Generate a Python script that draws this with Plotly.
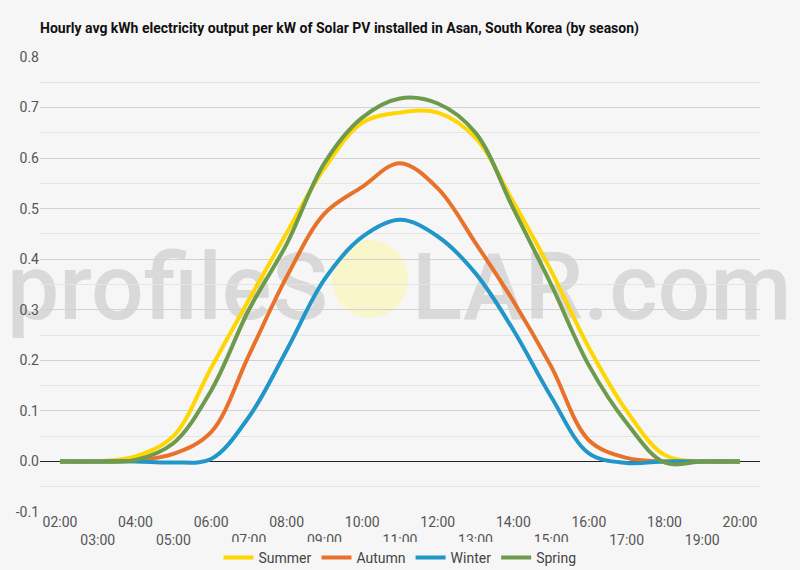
import plotly.graph_objects as go

hours = list(range(2, 21))
hour_labels = [f"{h:02d}:00" for h in hours]

summer = [0, 0, 0.01, 0.05, 0.185, 0.32, 0.452, 0.58, 0.67, 0.69, 0.69, 0.64, 0.513, 0.377, 0.225, 0.10, 0.013, 0, 0]
autumn = [0, 0, 0.002, 0.015, 0.058, 0.21, 0.365, 0.49, 0.543, 0.59, 0.54, 0.432, 0.317, 0.188, 0.042, 0.007, 0, 0, 0]
winter = [0, 0, 0, -0.002, 0.005, 0.088, 0.22, 0.36, 0.444, 0.478, 0.445, 0.372, 0.26, 0.128, 0.016, -0.003, 0, 0, 0]
spring = [0, 0, 0.003, 0.036, 0.14, 0.30, 0.43, 0.59, 0.68, 0.718, 0.708, 0.65, 0.50, 0.35, 0.19, 0.076, -0.002, 0, 0]

series = [
    ("Summer", summer, "#FFD600"),
    ("Autumn", autumn, "#E8722A"),
    ("Winter", winter, "#2196C8"),
    ("Spring", spring, "#6E9A4C"),
]

y_ticks = [-0.1, 0, 0.1, 0.2, 0.3, 0.4, 0.5, 0.6, 0.7, 0.8]
y_tick_text = ["-0.1", "0.0", "0.1", "0.2", "0.3", "0.4", "0.5", "0.6", "0.7", "0.8"]

# odd hours go on a second row, like the staggered labels in the original
x_tick_text = [lbl if i % 2 == 0 else "<br>" + lbl for i, lbl in enumerate(hour_labels)]

fig = go.Figure()
for name, vals, color in series:
    fig.add_trace(go.Scatter(
        x=hours, y=vals, name=name, mode="lines",
        line=dict(color=color, width=4, shape="spline", smoothing=1.0),
    ))

fig.update_layout(
    width=800, height=570,
    margin=dict(l=40, r=40, t=57, b=58),
    paper_bgcolor="#f6f6f6",
    plot_bgcolor="rgba(0,0,0,0)",
    font=dict(family="Roboto", size=14, color="#555555"),
    title=dict(
        text="<b>Hourly avg kWh electricity output per kW of Solar PV installed in Asan, South Korea (by season)</b>",
        font=dict(family="Roboto", size=14, color="#111111"),
        xref="container", x=0.05, xanchor="left",
        yref="container", y=1 - 28 / 570, yanchor="middle",
    ),
    showlegend=True,
    legend=dict(
        orientation="h", x=0.5, xanchor="center",
        yref="container", y=1 - 558 / 570, yanchor="middle",
        font=dict(size=14, color="#444444"), itemwidth=30,
        traceorder="normal",
    ),
    xaxis=dict(
        range=[2 - 20 / 37.8, 20 + 20 / 37.8],
        tickvals=hours, ticktext=x_tick_text,
        showgrid=False, zeroline=False, showline=False, automargin=False,
        ticks="", tickfont=dict(size=14, color="#555555"),
    ),
    yaxis=dict(
        range=[-0.1, 0.8],
        tickvals=y_ticks, ticktext=y_tick_text,
        showgrid=True, gridcolor="#d2d2d2", gridwidth=1,
        minor=dict(dtick=0.05, tick0=0, showgrid=True, gridcolor="#e4e4e4", gridwidth=1),
        zeroline=True, zerolinecolor="#222222", zerolinewidth=1,
        showline=False, automargin=False,
        ticks="", tickfont=dict(size=14, color="#555555"),
    ),
)

# watermark, kept under the grid and the lines
wm_font = dict(family="Roboto", size=93, color="#d9d9d9", weight=500)
wm_y0, wm_y1 = (512 - 330) / 455, (512 - 230) / 455
fig.add_shape(
    type="circle", xref="paper", yref="paper",
    x0=(332 - 40) / 720, x1=(408 - 40) / 720,
    y0=(512 - 318) / 455, y1=(512 - 240) / 455,
    fillcolor="#faf6cc", line=dict(width=0), layer="below",
)
fig.add_shape(
    type="rect", xref="paper", yref="paper",
    x0=-40 / 720, x1=(331 - 40) / 720, y0=wm_y0, y1=wm_y1,
    line=dict(width=0), fillcolor="rgba(0,0,0,0)", layer="below",
    label=dict(text="profileS", textposition="middle right", padding=0, font=wm_font),
)
fig.add_shape(
    type="rect", xref="paper", yref="paper",
    x0=(409 - 40) / 720, x1=(800 - 40) / 720, y0=wm_y0, y1=wm_y1,
    line=dict(width=0), fillcolor="rgba(0,0,0,0)", layer="below",
    label=dict(text="LAR.com", textposition="middle left", padding=0, font=wm_font),
)

fig.write_html(
    "out.html",
    config={"displayModeBar": False},
    post_script="document.body.style.margin='0';",
)
